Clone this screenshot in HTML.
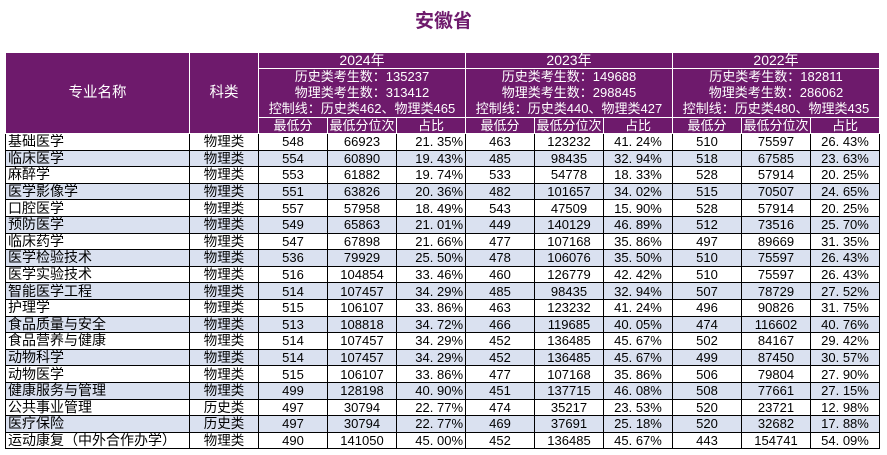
<!DOCTYPE html>
<html><head><meta charset="utf-8"><style>
body{margin:0;width:887px;height:455px;background:#fff;font-family:"Liberation Sans","Noto Sans CJK SC",sans-serif;overflow:hidden;position:relative}
#title{position:absolute;left:0;width:887px;top:10px;text-align:center;font-size:19px;font-weight:bold;color:#6e1a6c;line-height:24px}
table{position:absolute;left:5px;top:52px;border-collapse:collapse;table-layout:fixed;font-size:13px}
td{border:1px solid #000;padding:0;text-align:center;white-space:nowrap;overflow:hidden;line-height:15px}
.h td{background:#6e1a6c;color:#fff;border-color:#fff}
tr.h td{border-color:#fff}
.h1 td{height:15px;font-size:14px}
.h2 td{height:48px;line-height:16px}
.h3 td{height:15px}
.d td{height:15.6px}
.d.alt td{background:#dae1f0}
td.n{text-align:left;padding-left:2px;font-size:14px}
td.c{font-size:13.5px}
td.p1{text-align:right;padding-right:2px}
</style></head><body>
<div id="title">安徽省</div>
<table>
<colgroup><col style="width:184px"><col style="width:69px"><col style="width:69px"><col style="width:69px"><col style="width:69px"><col style="width:69px"><col style="width:69px"><col style="width:69px"><col style="width:69px"><col style="width:69px"><col style="width:69px"></colgroup>
<tr class="h h1">
<td rowspan="3" style="font-size:14.5px">专业名称</td>
<td rowspan="3" style="font-size:14.5px">科类</td>
<td colspan="3">2024年</td>
<td colspan="3">2023年</td>
<td colspan="3">2022年</td></tr>
<tr class="h h2">
<td colspan="3">历史类考生数：135237<br>物理类考生数：313412<br>控制线：历史类462、物理类465</td>
<td colspan="3">历史类考生数：149688<br>物理类考生数：298845<br>控制线：历史类440、物理类427</td>
<td colspan="3">历史类考生数：182811<br>物理类考生数：286062<br>控制线：历史类480、物理类435</td></tr>
<tr class="h h3">
<td>最低分</td><td>最低分位次</td><td>占比</td><td>最低分</td><td>最低分位次</td><td>占比</td><td>最低分</td><td>最低分位次</td><td>占比</td></tr>
<tbody id="body"></tbody>
</table>
<script>
const rows=[
["基础医学","物理类","548","66923","21.35%","463","123232","41.24%","510","75597","26.43%"],
["临床医学","物理类","554","60890","19.43%","485","98435","32.94%","518","67585","23.63%"],
["麻醉学","物理类","553","61882","19.74%","533","54778","18.33%","528","57914","20.25%"],
["医学影像学","物理类","551","63826","20.36%","482","101657","34.02%","515","70507","24.65%"],
["口腔医学","物理类","557","57958","18.49%","543","47509","15.90%","528","57914","20.25%"],
["预防医学","物理类","549","65863","21.01%","449","140129","46.89%","512","73516","25.70%"],
["临床药学","物理类","547","67898","21.66%","477","107168","35.86%","497","89669","31.35%"],
["医学检验技术","物理类","536","79929","25.50%","478","106076","35.50%","510","75597","26.43%"],
["医学实验技术","物理类","516","104854","33.46%","460","126779","42.42%","510","75597","26.43%"],
["智能医学工程","物理类","514","107457","34.29%","485","98435","32.94%","507","78729","27.52%"],
["护理学","物理类","515","106107","33.86%","463","123232","41.24%","496","90826","31.75%"],
["食品质量与安全","物理类","513","108818","34.72%","466","119685","40.05%","474","116602","40.76%"],
["食品营养与健康","物理类","514","107457","34.29%","452","136485","45.67%","502","84167","29.42%"],
["动物科学","物理类","514","107457","34.29%","452","136485","45.67%","499","87450","30.57%"],
["动物医学","物理类","515","106107","33.86%","477","107168","35.86%","506","79804","27.90%"],
["健康服务与管理","物理类","499","128198","40.90%","451","137715","46.08%","508","77661","27.15%"],
["公共事业管理","历史类","497","30794","22.77%","474","35217","23.53%","520","23721","12.98%"],
["医疗保险","历史类","497","30794","22.77%","469","37691","25.18%","520","32682","17.88%"],
["运动康复（中外合作办学）","物理类","490","141050","45.00%","452","136485","45.67%","443","154741","54.09%"]];
const tb=document.getElementById('body');
rows.forEach((r,i)=>{
const tr=document.createElement('tr');
tr.className='d'+(i%2?' alt':'');


r.forEach((v,j)=>{
const td=document.createElement('td');
td.textContent=j>=2&&v.endsWith('%')?v.replace('.','. '):v;
if(j===0)td.className='n';
if(j===1)td.className='c';
if(j===4)td.className='p1';


tr.appendChild(td);});
tb.appendChild(tr);});
</script>
</body></html>
